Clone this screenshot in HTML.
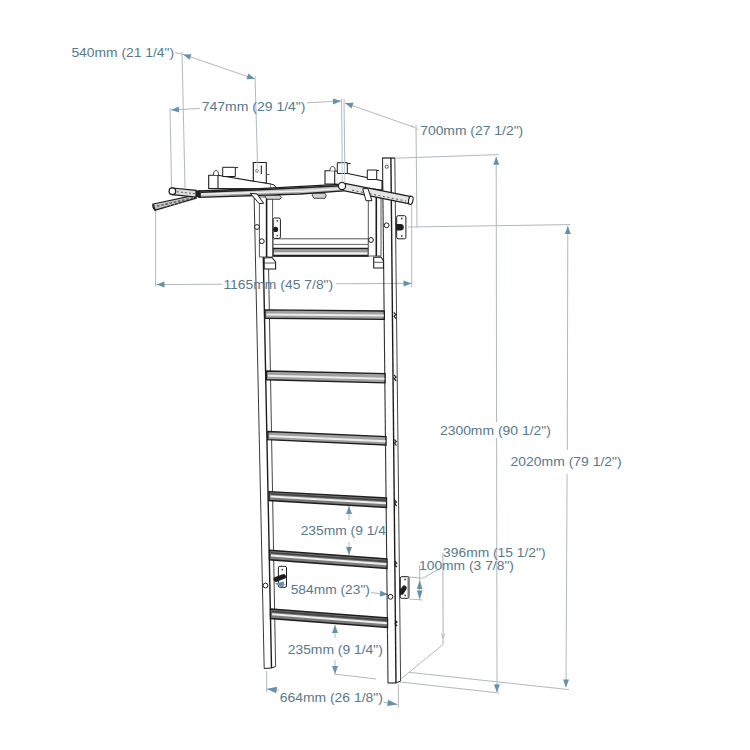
<!DOCTYPE html>
<html><head><meta charset="utf-8"><style>
html,body{margin:0;padding:0;background:#fff;width:750px;height:750px;overflow:hidden}
svg{display:block}
text{font-family:"Liberation Sans",sans-serif}
</style></head><body>
<svg width="750" height="750" viewBox="0 0 750 750">
<rect width="750" height="750" fill="#fff"/>
<line x1="175" y1="52.5" x2="183" y2="54.5" stroke="#b1b9bf" stroke-width="1.0" />
<line x1="183" y1="54.4" x2="255" y2="79" stroke="#b1b9bf" stroke-width="1.0" />
<polygon points="183.00,54.40 191.54,54.15 189.60,59.83" fill="#6591ab"/>
<polygon points="255.00,79.00 246.46,79.25 248.40,73.57" fill="#6591ab"/>
<line x1="182" y1="52" x2="185" y2="188" stroke="#b1b9bf" stroke-width="1.0" />
<line x1="255" y1="76" x2="257.5" y2="164" stroke="#b1b9bf" stroke-width="1.0" />
<line x1="171" y1="110" x2="199.8" y2="108.5" stroke="#b1b9bf" stroke-width="1.0" />
<line x1="307" y1="102.8" x2="341" y2="101" stroke="#b1b9bf" stroke-width="1.0" />
<polygon points="171.00,110.00 178.83,106.58 179.15,112.57" fill="#6591ab"/>
<polygon points="341.00,101.00 333.17,104.42 332.85,98.43" fill="#6591ab"/>
<line x1="170" y1="108" x2="171.6" y2="189" stroke="#b1b9bf" stroke-width="1.0" />
<line x1="341.5" y1="99" x2="342.5" y2="186" stroke="#b1b9bf" stroke-width="1.0" />
<line x1="344" y1="99" x2="345" y2="186" stroke="#b1b9bf" stroke-width="1.0" />
<line x1="345" y1="103" x2="415" y2="127.6" stroke="#b1b9bf" stroke-width="1.0" />
<polygon points="345.00,103.00 353.54,102.82 351.55,108.48" fill="#6591ab"/>
<line x1="411" y1="125" x2="418" y2="130" stroke="#b1b9bf" stroke-width="0.8" />
<line x1="416" y1="125" x2="417" y2="228" stroke="#b1b9bf" stroke-width="1.0" />
<line x1="408" y1="227" x2="570.6" y2="224.6" stroke="#b1b9bf" stroke-width="1.0" />
<line x1="395.6" y1="158.2" x2="499" y2="154.6" stroke="#b1b9bf" stroke-width="1.0" />
<line x1="496.2" y1="157" x2="496.55" y2="422" stroke="#b1b9bf" stroke-width="1.0" />
<line x1="496.6" y1="438" x2="497" y2="692" stroke="#b1b9bf" stroke-width="1.0" />
<polygon points="496.20,156.70 499.27,164.67 493.27,164.73" fill="#6591ab"/>
<polygon points="497.00,692.40 493.92,684.43 499.92,684.37" fill="#6591ab"/>
<line x1="567.8" y1="226" x2="567.3" y2="450" stroke="#b1b9bf" stroke-width="1.0" />
<line x1="567.1" y1="474" x2="566" y2="687" stroke="#b1b9bf" stroke-width="1.0" />
<polygon points="567.80,226.00 570.75,234.02 564.75,233.98" fill="#6591ab"/>
<polygon points="566.00,687.40 563.04,679.38 569.04,679.42" fill="#6591ab"/>
<line x1="156.5" y1="284.6" x2="221.9" y2="284.2" stroke="#b1b9bf" stroke-width="1.0" />
<line x1="336" y1="283.8" x2="411.6" y2="283.4" stroke="#b1b9bf" stroke-width="1.0" />
<polygon points="156.50,284.60 164.49,281.56 164.51,287.56" fill="#6591ab"/>
<polygon points="411.60,283.40 403.61,286.44 403.59,280.44" fill="#6591ab"/>
<line x1="155.6" y1="210" x2="155.6" y2="286.8" stroke="#b1b9bf" stroke-width="1.0" />
<line x1="411.7" y1="204.7" x2="411.7" y2="287" stroke="#b1b9bf" stroke-width="1.0" />
<line x1="408.8" y1="672.3" x2="569" y2="689.6" stroke="#b1b9bf" stroke-width="1.0" />
<line x1="399.2" y1="681.9" x2="499" y2="693" stroke="#b1b9bf" stroke-width="1.0" />
<line x1="401.3" y1="678.7" x2="443" y2="644.5" stroke="#b1b9bf" stroke-width="1.0" />
<line x1="442.9" y1="552.8" x2="443.1" y2="644.5" stroke="#b1b9bf" stroke-width="1.1" />
<line x1="441.1" y1="633.5" x2="443.1" y2="638" stroke="#b1b9bf" stroke-width="0.9" />
<line x1="445.1" y1="633.5" x2="443.1" y2="638" stroke="#b1b9bf" stroke-width="0.9" />
<line x1="419.7" y1="565.3" x2="419.7" y2="600" stroke="#b1b9bf" stroke-width="1.0" />
<polygon points="419.70,580.00 422.50,589.00 416.90,589.00" fill="#6591ab"/>
<polygon points="419.70,599.50 416.90,590.50 422.50,590.50" fill="#6591ab"/>
<line x1="422.7" y1="578.3" x2="441.6" y2="567.7" stroke="#b1b9bf" stroke-width="1.0" />
<line x1="402.7" y1="576.3" x2="422.7" y2="578.3" stroke="#b1b9bf" stroke-width="1.0" />
<line x1="409.3" y1="599" x2="422.7" y2="600" stroke="#b1b9bf" stroke-width="1.0" />
<line x1="349" y1="506" x2="349" y2="520" stroke="#b1b9bf" stroke-width="1.0" />
<polygon points="349.00,506.00 352.00,514.00 346.00,514.00" fill="#6591ab"/>
<line x1="349" y1="542" x2="349" y2="555" stroke="#b1b9bf" stroke-width="1.0" />
<polygon points="349.00,555.00 346.00,547.00 352.00,547.00" fill="#6591ab"/>
<line x1="371" y1="592.6" x2="388" y2="594.4" stroke="#b1b9bf" stroke-width="1.0" />
<polygon points="388.00,594.40 379.73,596.54 380.36,590.57" fill="#6591ab"/>
<line x1="335" y1="625" x2="335" y2="638" stroke="#b1b9bf" stroke-width="1.0" />
<polygon points="335.00,625.00 338.00,633.00 332.00,633.00" fill="#6591ab"/>
<line x1="335" y1="660" x2="335" y2="674" stroke="#b1b9bf" stroke-width="1.0" />
<polygon points="335.00,674.00 332.00,666.00 338.00,666.00" fill="#6591ab"/>
<line x1="334" y1="674" x2="376" y2="679" stroke="#b1b9bf" stroke-width="1.0" />
<line x1="266.7" y1="671" x2="266.7" y2="692" stroke="#b1b9bf" stroke-width="1.0" />
<line x1="398.3" y1="684" x2="398.3" y2="708" stroke="#b1b9bf" stroke-width="1.0" />
<line x1="266.7" y1="688.9" x2="279" y2="690.2" stroke="#b1b9bf" stroke-width="1.0" />
<line x1="383.5" y1="702.3" x2="397.5" y2="704.5" stroke="#b1b9bf" stroke-width="1.0" />
<polygon points="266.70,688.90 276.98,686.77 276.31,693.13" fill="#6591ab"/>
<polygon points="397.50,704.50 387.12,706.08 388.13,699.76" fill="#6591ab"/>
<line x1="253.4" y1="162" x2="264.2" y2="668.5" stroke="#3a3a3a" stroke-width="1.0" />
<line x1="263.3" y1="257" x2="271.5" y2="668" stroke="#1e1e1e" stroke-width="1.4" />
<line x1="268.4" y1="257" x2="275.6" y2="666.5" stroke="#444" stroke-width="1.0" />
<line x1="264.2" y1="668.5" x2="271.5" y2="668" stroke="#1e1e1e" stroke-width="1.1" />
<line x1="271.5" y1="668" x2="275.6" y2="666.5" stroke="#1e1e1e" stroke-width="1.0" />
<line x1="382.5" y1="158" x2="388" y2="683" stroke="#333" stroke-width="1.1" />
<line x1="390.9" y1="158" x2="396" y2="683" stroke="#1e1e1e" stroke-width="1.4" />
<line x1="394.8" y1="158" x2="400.6" y2="681" stroke="#444" stroke-width="1.0" />
<line x1="382" y1="158" x2="395" y2="158" stroke="#1e1e1e" stroke-width="1.2" />
<path d="M380,181 L383,181 L383,190 L380,190 Z" fill="#333"/>
<circle cx="386.7" cy="166.7" r="1.6" fill="none" stroke="#444" stroke-width="0.9"/>
<line x1="388" y1="683" x2="396" y2="683" stroke="#1e1e1e" stroke-width="1.1" />
<line x1="396" y1="683" x2="400.6" y2="681" stroke="#1e1e1e" stroke-width="1.0" />
<polygon points="265.0,309.9 384.3,311 384.3,319.4 265.0,318.2" fill="#a0a0a0" stroke="#1e1e1e" stroke-width="1.4"/>
<line x1="266.5" y1="314.465" x2="383.8" y2="315.62" stroke="#eeeeee" stroke-width="2.0" />
<polygon points="266.5,371 385.0,373.6 385.0,382.9 266.5,379.8" fill="#a0a0a0" stroke="#1e1e1e" stroke-width="1.4"/>
<line x1="268.0" y1="375.84000000000003" x2="384.5" y2="378.715" stroke="#eeeeee" stroke-width="2.0" />
<polygon points="267.8,431.5 386,436.6 386,445 267.8,439.7" fill="#a0a0a0" stroke="#1e1e1e" stroke-width="1.4"/>
<line x1="269.3" y1="436.01" x2="385.5" y2="441.22" stroke="#eeeeee" stroke-width="2.0" />
<polygon points="269.0,491.6 386.5,498 386.5,507.5 269.0,500.5" fill="#7c7c7c" stroke="#1e1e1e" stroke-width="1.4"/>
<line x1="270.5" y1="496.495" x2="386.0" y2="503.225" stroke="#eeeeee" stroke-width="2.0" />
<line x1="270.5" y1="493.82500000000005" x2="386.0" y2="500.375" stroke="#444" stroke-width="1.6" />
<polygon points="269.5,550.3 387,559 387,568.5 269.5,559.8" fill="#7c7c7c" stroke="#1e1e1e" stroke-width="1.4"/>
<line x1="271.0" y1="555.525" x2="386.5" y2="564.225" stroke="#eeeeee" stroke-width="2.0" />
<line x1="271.0" y1="552.675" x2="386.5" y2="561.375" stroke="#444" stroke-width="1.6" />
<polygon points="270.5,609 387.5,618 387.5,627.5 270.5,618.5" fill="#7c7c7c" stroke="#1e1e1e" stroke-width="1.4"/>
<line x1="272.0" y1="614.225" x2="387.0" y2="623.225" stroke="#eeeeee" stroke-width="2.0" />
<line x1="272.0" y1="611.375" x2="387.0" y2="620.375" stroke="#444" stroke-width="1.6" />
<polygon points="273,238.8 368.4,238.8 368.4,256.5 273,256.5" fill="#fff" stroke="#555" stroke-width="1"/>
<line x1="273" y1="244.4" x2="368.4" y2="244.4" stroke="#666" stroke-width="1.0" />
<polygon points="273,248.5 368.4,248.5 368.4,255.8 273,255.8" fill="#bdbdbd" stroke="#1e1e1e" stroke-width="1.4"/>
<line x1="274" y1="251" x2="367.5" y2="251" stroke="#777" stroke-width="1.0" />
<line x1="274" y1="253.2" x2="367.5" y2="253.2" stroke="#eeeeee" stroke-width="1.4" />
<polygon points="259.4,197 272.6,197 272.6,257 259.4,257" fill="#fff" stroke="#555" stroke-width="1.0"/>
<line x1="266.6" y1="186" x2="266.6" y2="257" stroke="#1e1e1e" stroke-width="1.6" />
<polygon points="368.3,195 381,195 381,256 368.3,256" fill="#fff" stroke="#555" stroke-width="1.0"/>
<line x1="376.3" y1="186" x2="376.3" y2="256" stroke="#1e1e1e" stroke-width="1.6" />
<polygon points="264.2,258 272,257.5 275.6,262 275.6,269 264.2,269" fill="#fff" stroke="#1e1e1e" stroke-width="1.1"/>
<line x1="264.2" y1="263" x2="275.6" y2="263" stroke="#444" stroke-width="0.9" />
<polygon points="373.7,257.3 381,257 383.5,261 383.5,268 373.7,268" fill="#fff" stroke="#1e1e1e" stroke-width="1.1"/>
<line x1="373.7" y1="262.3" x2="383.5" y2="262.3" stroke="#444" stroke-width="0.9" />
<rect x="273.2" y="218" width="7.199999999999989" height="20.400000000000006" rx="1.5" fill="#fff" stroke="#1e1e1e" stroke-width="1"/>
<ellipse cx="275.6" cy="229.4" rx="2.5" ry="2.6" fill="#1e1e1e"/>
<circle cx="277.29999999999995" cy="220.8" r="0.9" fill="#444"/>
<circle cx="277.29999999999995" cy="235.6" r="0.9" fill="#444"/>
<rect x="396.7" y="215.7" width="9.199999999999989" height="23.100000000000023" rx="1.5" fill="#fff" stroke="#1e1e1e" stroke-width="1"/>
<ellipse cx="400" cy="227.3" rx="0.1" ry="0.1" fill="#1e1e1e"/>
<circle cx="401.79999999999995" cy="218.5" r="0.9" fill="#444"/>
<circle cx="401.79999999999995" cy="236.0" r="0.9" fill="#444"/>
<path d="M396.2,224.1 L400.5,224.1 Q403.8,224.1 403.8,227.3 Q403.8,230.6 400.5,230.6 L396.2,230.6 Z" fill="#1e1e1e"/>
<rect x="400.3" y="576.7" width="8.699999999999989" height="21.59999999999991" rx="1.5" fill="#fff" stroke="#1e1e1e" stroke-width="1"/>
<ellipse cx="404" cy="589" rx="0.1" ry="0.1" fill="#1e1e1e"/>
<circle cx="405.15" cy="579.5" r="0.9" fill="#444"/>
<circle cx="405.15" cy="595.5" r="0.9" fill="#444"/>
<line x1="408" y1="577.5" x2="408" y2="597.5" stroke="#666" stroke-width="0.9" />
<path d="M399.7,590 L403.5,585.3 Q407,585.6 406.7,588.8 L403,594.7 L399.7,594.7 Z" fill="#1e1e1e"/>
<rect x="278.4" y="566.3" width="8.1" height="21" rx="1.5" fill="#fff" stroke="#1e1e1e" stroke-width="1"/>
<circle cx="282.3" cy="569.6" r="0.9" fill="#444"/>
<line x1="276" y1="579.3" x2="283.5" y2="576.5" stroke="#1e1e1e" stroke-width="5" stroke-linecap="round"/>
<circle cx="261.8" cy="241.2" r="2.4" fill="#fff" stroke="#1e1e1e" stroke-width="1"/>
<circle cx="371" cy="240" r="2.4" fill="#fff" stroke="#1e1e1e" stroke-width="1"/>
<circle cx="386.6" cy="225.3" r="2.4" fill="#fff" stroke="#1e1e1e" stroke-width="1"/>
<circle cx="257" cy="227" r="2.4" fill="#fff" stroke="#1e1e1e" stroke-width="1"/>
<circle cx="265.5" cy="585.5" r="2.4" fill="#fff" stroke="#1e1e1e" stroke-width="1"/>
<circle cx="390.5" cy="596.8" r="2.4" fill="#fff" stroke="#1e1e1e" stroke-width="1"/>
<path d="M393.85425000000004,312.3 L395.85425000000004,314.7 L394.05425,316.1 L395.95425000000006,318.7" fill="none" stroke="#222" stroke-width="1.2"/>
<path d="M394.07300000000004,374.8 L396.07300000000004,377.2 L394.273,378.6 L396.17300000000006,381.2" fill="none" stroke="#222" stroke-width="1.2"/>
<path d="M394.29875,439.3 L396.29875,441.7 L394.49875,443.1 L396.39875,445.7" fill="none" stroke="#222" stroke-width="1.2"/>
<path d="M394.51050000000004,499.8 L396.51050000000004,502.2 L394.7105,503.6 L396.61050000000006,506.2" fill="none" stroke="#222" stroke-width="1.2"/>
<path d="M394.724,560.8 L396.724,563.2 L394.924,564.6 L396.824,567.2" fill="none" stroke="#222" stroke-width="1.2"/>
<path d="M394.9305,619.8 L396.9305,622.2 L395.1305,623.6 L397.0305,626.2" fill="none" stroke="#222" stroke-width="1.2"/>
<polygon points="253.3,162.5 266.3,162.5 266.3,183 253.3,183" fill="#fff" stroke="#1e1e1e" stroke-width="1.1"/>
<line x1="261.3" y1="165.5" x2="261.3" y2="174" stroke="#1e1e1e" stroke-width="1.1" />
<circle cx="257" cy="170.8" r="1.4" fill="none" stroke="#555" stroke-width="0.8"/>
<line x1="266" y1="174.5" x2="269.5" y2="174.5" stroke="#555" stroke-width="1" />
<polygon points="208.7,175.3 218,175.3 270.5,184 270.5,189 218,188.5 208.7,188.5" fill="#fff" stroke="#1e1e1e" stroke-width="1.1"/>
<path d="M270.5,184 Q275.5,184.5 275.5,187 Q275.5,189.5 270.5,189" fill="#fff" stroke="#1e1e1e" stroke-width="1"/>
<line x1="218" y1="175.3" x2="218" y2="188.7" stroke="#1e1e1e" stroke-width="1.1" />
<polygon points="222.7,167.3 235.3,167.3 235.3,176.5 222.7,176.5" fill="#fff" stroke="#1e1e1e" stroke-width="1.0"/>
<line x1="235.3" y1="167.6" x2="238" y2="167.6" stroke="#1e1e1e" stroke-width="1.0" />
<path d="M213.5,175 Q213.5,170.5 216,170.5 Q218.5,170.5 218.5,175" fill="#fff" stroke="#333" stroke-width="0.9"/>
<polygon points="325,170.7 334.7,170.7 382,180.7 382,190 334.7,184 325,184" fill="#fff" stroke="#1e1e1e" stroke-width="1.1"/>
<line x1="334.7" y1="170.7" x2="334.7" y2="184" stroke="#1e1e1e" stroke-width="1.1" />
<polygon points="337.3,162.7 347.3,162.7 347.3,173.5 337.3,173.5" fill="#fff" stroke="#1e1e1e" stroke-width="1.0"/>
<line x1="347.3" y1="163.5" x2="350.7" y2="163.5" stroke="#1e1e1e" stroke-width="1.0" />
<polygon points="367.3,170 376.7,170 376.7,179.5 367.3,179.5" fill="#fff" stroke="#1e1e1e" stroke-width="1.0"/>
<line x1="376.7" y1="170.5" x2="379" y2="170.5" stroke="#1e1e1e" stroke-width="1.0" />
<path d="M330,170.8 Q330,166.5 332.7,166.5 Q335.2,166.5 335.2,170.8" fill="#fff" stroke="#333" stroke-width="0.9"/>
<polygon points="199,191 260,188.6 343,184.2 343,191 300,194 199,197.4" fill="#c2c2c2" stroke="#1e1e1e" stroke-width="1.3"/>
<line x1="201" y1="192.2" x2="260" y2="189.8" stroke="#222" stroke-width="1.5" />
<line x1="260" y1="189.8" x2="341" y2="185.8" stroke="#222" stroke-width="1.5" />
<line x1="201" y1="194.2" x2="300" y2="191.2" stroke="#eeeeee" stroke-width="1.5" />
<line x1="300" y1="191.2" x2="341" y2="188.4" stroke="#eeeeee" stroke-width="1.5" />
<line x1="230" y1="195.2" x2="300" y2="192.9" stroke="#888" stroke-width="0.8" />
<polygon points="153.2,204 192.8,195.6 196,198.2 155.2,210.2" fill="#c4c4c4" stroke="#1e1e1e" stroke-width="1.2"/>
<path d="M153.2,204 Q151.8,207.5 155.2,210.2" fill="none" stroke="#1e1e1e" stroke-width="1.2"/>
<line x1="157" y1="206.2" x2="193" y2="197.8" stroke="#555" stroke-width="1.3" stroke-dasharray="2.5,1.8"/>
<line x1="158" y1="208.6" x2="194" y2="199.6" stroke="#777" stroke-width="0.9" stroke-dasharray="1.5,2.5"/>
<polygon points="172.4,188 196,190.4 196,197.2 172.4,194.6" fill="#dcdcdc" stroke="#1e1e1e" stroke-width="1.2"/>
<line x1="177" y1="191.8" x2="195" y2="193.6" stroke="#666" stroke-width="1.0" stroke-dasharray="2,2"/>
<circle cx="172.4" cy="191.2" r="3.3" fill="#fff" stroke="#1e1e1e" stroke-width="1.3"/>
<rect x="196" y="190.4" width="4.8" height="6.8" fill="#1e1e1e"/>
<line x1="344" y1="187" x2="410.5" y2="200.3" stroke="#1e1e1e" stroke-width="8.6" stroke-linecap="butt"/>
<line x1="344" y1="187" x2="410.5" y2="200.3" stroke="#e4e4e4" stroke-width="6.2" stroke-linecap="butt"/>
<line x1="352" y1="190.2" x2="406" y2="201" stroke="#555" stroke-width="1.0" stroke-dasharray="2,2.5"/>
<ellipse cx="410.8" cy="200.3" rx="2.2" ry="4.2" transform="rotate(11 410.8 200.3)" fill="#fff" stroke="#1e1e1e" stroke-width="1.1"/>
<circle cx="342" cy="186" r="3.6" fill="#fff" stroke="#1e1e1e" stroke-width="1.2"/>
<polygon points="250.3,193.3 257,194 263.7,203.3 259,203.5" fill="#fff" stroke="#1e1e1e" stroke-width="1.0"/>
<path d="M265,195.4 L280,195.4 Q282.5,197 280,199.3 L267,199.3 Q265,197.5 265,195.4 Z" fill="#d0d0d0" stroke="#333" stroke-width="0.9"/>
<path d="M312,193.6 L325,193.2 Q327.5,195.5 325,198.3 L314,198.3 Q312,196 312,193.6 Z" fill="#d0d0d0" stroke="#333" stroke-width="0.9"/>
<polygon points="362.7,188.7 368,188.7 372,200.7 366,200.7" fill="#fff" stroke="#1e1e1e" stroke-width="1.0"/>
<line x1="341.9" y1="160" x2="342.3" y2="182.5" stroke="#c3c9cd" stroke-width="0.9" />
<line x1="344.4" y1="160" x2="344.8" y2="182.5" stroke="#c3c9cd" stroke-width="0.9" />
<line x1="257" y1="160" x2="257.5" y2="170" stroke="#c3c9cd" stroke-width="0.9" />
<text x="71.4" y="56.8" textLength="102.7" lengthAdjust="spacingAndGlyphs" font-size="12.5" fill="#587a8c">540mm (21 1/4&quot;)</text>
<text x="201.7" y="110.8" textLength="103.8" lengthAdjust="spacingAndGlyphs" font-size="12.5" fill="#587a8c">747mm (29 1/4&quot;)</text>
<text x="420.2" y="134.8" textLength="103.0" lengthAdjust="spacingAndGlyphs" font-size="12.5" fill="#587a8c">700mm (27 1/2&quot;)</text>
<text x="223.4" y="289.2" textLength="109.8" lengthAdjust="spacingAndGlyphs" font-size="12.5" fill="#587a8c">1165mm (45 7/8&quot;)</text>
<text x="439.9" y="435.3" textLength="111.0" lengthAdjust="spacingAndGlyphs" font-size="12.5" fill="#587a8c">2300mm (90 1/2&quot;)</text>
<text x="510.6" y="465.9" textLength="111.0" lengthAdjust="spacingAndGlyphs" font-size="12.5" fill="#587a8c">2020mm (79 1/2&quot;)</text>
<text x="443.1" y="557" textLength="102.4" lengthAdjust="spacingAndGlyphs" font-size="12.5" fill="#587a8c">396mm (15 1/2&quot;)</text>
<text x="419.0" y="569.9" textLength="94.9" lengthAdjust="spacingAndGlyphs" font-size="12.5" fill="#587a8c">100mm (3 7/8&quot;)</text>
<text x="300.7" y="535" textLength="85.2" lengthAdjust="spacingAndGlyphs" font-size="12.5" fill="#587a8c">235mm (9 1/4</text>
<text x="290.7" y="594" textLength="79.2" lengthAdjust="spacingAndGlyphs" font-size="12.5" fill="#587a8c">584mm (23&quot;)</text>
<line x1="276" y1="583.6" x2="286" y2="584.8" stroke="#b1b9bf" stroke-width="1.0" />
<polygon points="274.80,583.40 284.15,581.45 283.28,587.79" fill="#6591ab"/>
<text x="287.7" y="654" textLength="95.2" lengthAdjust="spacingAndGlyphs" font-size="12.5" fill="#587a8c">235mm (9 1/4&quot;)</text>
<text x="279.7" y="702" textLength="103.2" lengthAdjust="spacingAndGlyphs" font-size="12.5" fill="#587a8c">664mm (26 1/8&quot;)</text>
</svg>
</body></html>
